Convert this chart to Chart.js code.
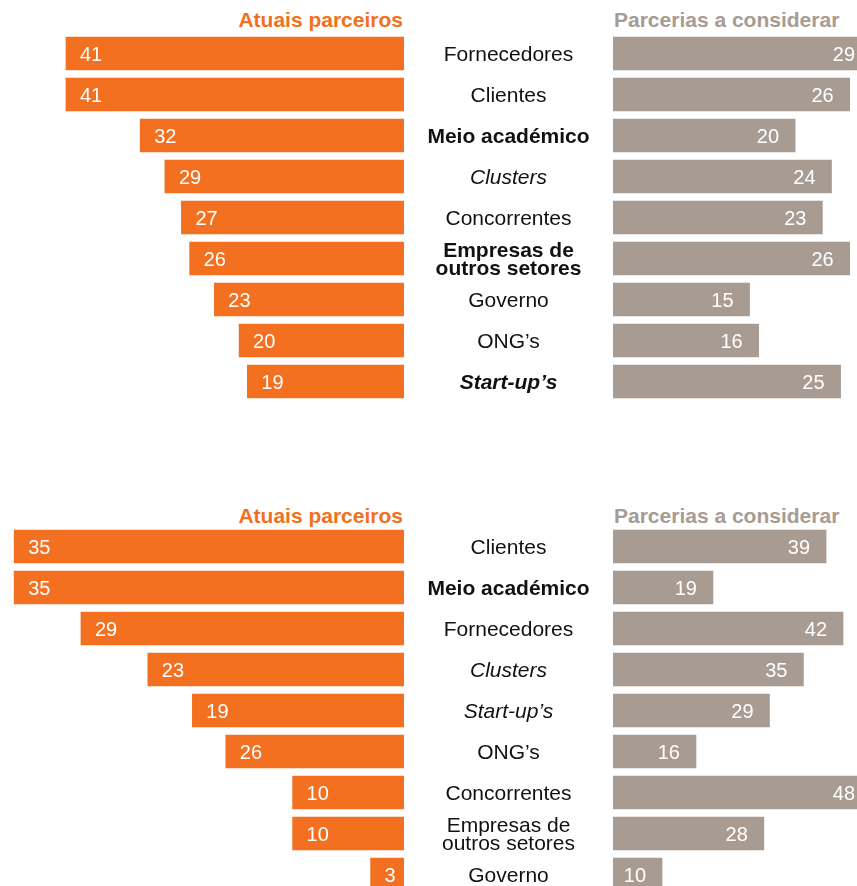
<!DOCTYPE html>
<html>
<head>
<meta charset="utf-8">
<script src="https://cdn.jsdelivr.net/npm/chart.js@4"></script>
<style>
  html, body { margin: 0; padding: 0; width: 857px; height: 886px; overflow: hidden; background: #fff; }
  .box { position: absolute; }
  .hdr { position: absolute; font: bold 21px "Liberation Sans", Arial, sans-serif; line-height: 21px; white-space: nowrap; }
</style>
</head>
<body>
<div class="hdr" style="right:454px; top:9px; color:#f37021">Atuais parceiros</div>
<div class="hdr" style="left:614px; top:9px; color:#a89c92">Parcerias a considerar</div>
<div class="hdr" style="right:454px; top:505px; color:#f37021">Atuais parceiros</div>
<div class="hdr" style="left:614px; top:505px; color:#a89c92">Parcerias a considerar</div>

<div class="box" style="left:0; top:33px"><canvas id="esq1" width="404" height="369"></canvas></div>
<div class="box" style="left:404px; top:33px"><canvas id="dir1" width="453" height="369"></canvas></div>
<div class="box" style="left:0; top:526px"><canvas id="esq2" width="404" height="369"></canvas></div>
<div class="box" style="left:404px; top:526px"><canvas id="dir2" width="453" height="369"></canvas></div>

<script>
// painel de cima
const categorias1 = ['Fornecedores', 'Clientes', 'Meio académico', 'Clusters', 'Concorrentes',
  ['Empresas de', 'outros setores'], 'Governo', 'ONG’s', 'Start-up’s'];
const atuais1 = [41, 41, 32, 29, 27, 26, 23, 20, 19];
const considerar1 = [29, 26, 20, 24, 23, 26, 15, 16, 25];

// painel de baixo
const categorias2 = ['Clientes', 'Meio académico', 'Fornecedores', 'Clusters', 'Start-up’s', 'ONG’s',
  'Concorrentes', ['Empresas de', 'outros setores'], 'Governo'];
const atuais2 = [35, 35, 29, 23, 19, 16, 10, 10, 3];
// no original a barra das ONG's mede ~16 mas o número impresso é 26
const atuaisRotulos2 = [35, 35, 29, 23, 19, 26, 10, 10, 3];
const considerar2 = [39, 19, 42, 35, 29, 16, 48, 28, 10];

const LARANJA = '#f37021';
const CINZA = '#a89c92';
const FONTE = '"Liberation Sans", Arial, Helvetica, sans-serif';

const estilos1 = ['', '', 'bold', 'italic', '', 'bold', '', '', 'italic bold'];
const estilos2 = ['', 'bold', '', 'italic', 'italic', '', '', '', ''];

function rotulosPlugin(textos, lado) {
  return {
    id: 'rotulos',
    afterDatasetsDraw(chart) {
      const ctx = chart.ctx;
      const area = chart.chartArea;
      const meta = chart.getDatasetMeta(0);
      ctx.save();
      ctx.fillStyle = '#fff';
      ctx.font = '20px ' + FONTE;
      ctx.textBaseline = 'alphabetic';
      meta.data.forEach((bar, i) => {
        const y = bar.y + 7;
        if (lado === 'esq') {
          ctx.textAlign = 'left';
          ctx.fillText(String(textos[i]), Math.max(bar.x, area.left) + 14, y);
        } else {
          ctx.textAlign = 'right';
          ctx.fillText(String(textos[i]), Math.min(bar.x - 16, area.right - 2), y);
        }
      });
      ctx.restore();
    }
  };
}

function categoriasPlugin(estilos) {
  return {
    id: 'categorias',
    afterDraw(chart) {
      const ctx = chart.ctx;
      const yScale = chart.scales.y;
      const cx = chart.chartArea.left - 104.5;
      ctx.save();
      ctx.fillStyle = '#111';
      ctx.textAlign = 'center';
      ctx.textBaseline = 'alphabetic';
      chart.data.labels.forEach((c, i) => {
        const linhas = Array.isArray(c) ? c : [c];
        ctx.font = (estilos[i] + ' 21px ' + FONTE).trim();
        const yc = yScale.getPixelForValue(i);
        linhas.forEach((l, j) => {
          const y = yc + (j - (linhas.length - 1) / 2) * 18 + 7.5;
          ctx.fillText(l, cx, y);
        });
      });
      ctx.restore();
    }
  };
}

function grafico(id, labels, valores, cor, lado, min, max, plugins) {
  return new Chart(document.getElementById(id), {
    type: 'bar',
    data: {
      labels: labels,
      datasets: [{
        data: valores,
        backgroundColor: cor,
        borderWidth: 0,
        barThickness: 33
      }]
    },
    options: {
      indexAxis: 'y',
      responsive: false,
      animation: false,
      devicePixelRatio: 1,
      layout: { padding: lado === 'dir' ? { left: 209 } : 0 },
      plugins: { legend: { display: false }, tooltip: { enabled: false } },
      scales: {
        x: { display: false, min: min, max: max, reverse: lado === 'esq' },
        y: { display: false }
      }
    },
    plugins: plugins
  });
}

grafico('esq1', categorias1, atuais1, LARANJA, 'esq', 0, 49, [rotulosPlugin(atuais1, 'esq')]);
grafico('dir1', categorias1, considerar1, CINZA, 'dir', 0, 26.8,
  [rotulosPlugin(considerar1, 'dir'), categoriasPlugin(estilos1)]);
grafico('esq2', categorias2, atuais2, LARANJA, 'esq', 0, 36.27, [rotulosPlugin(atuaisRotulos2, 'esq')]);
grafico('dir2', categorias2, considerar2, CINZA, 'dir', 1.33, 44.47,
  [rotulosPlugin(considerar2, 'dir'), categoriasPlugin(estilos2)]);
</script>
</body>
</html>
